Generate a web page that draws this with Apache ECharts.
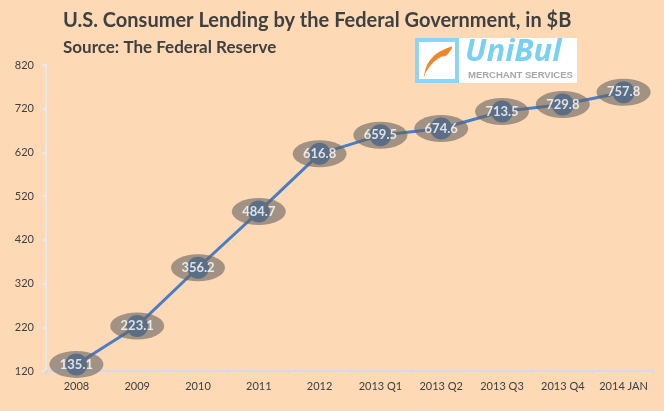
<!DOCTYPE html>
<html>
<head>
<meta charset="utf-8">
<script src="https://cdn.jsdelivr.net/npm/echarts@6/dist/echarts.min.js"></script>
<style>
html,body{margin:0;padding:0;background:#fdd9b6;}
#chart{width:664px;height:411px;}
</style>
</head>
<body>
<div id="chart"></div>
<script>
const categories = ['2008','2009','2010','2011','2012','2013 Q1','2013 Q2','2013 Q3','2013 Q4','2014 JAN'];
const lendingValues = [135.1, 223.1, 356.2, 484.7, 616.8, 659.5, 674.6, 713.5, 729.8, 757.8];
const yMin = 120, yMax = 820, yStep = 100;

const chart = echarts.init(document.getElementById('chart'), null, {renderer:'canvas'});
const ellipsePath = 'path://M0,50 A50,50 0 1,1 100,50 A50,50 0 1,1 0,50 Z';
const font = 'Lato, "Open Sans", sans-serif';

// logo swoosh outline (decoration)
const swoosh = [[0,30],[1,24],[3,18],[7,12],[12,7],[19,3],[28,0],[23,8],[17,10],[11,14],[6,19],[2,25]];

chart.setOption({
  backgroundColor: '#fdd9b6',
  animation: false,
  textStyle: {fontFamily: font},
  grid: {left: 46, right: 10, top: 65, bottom: 40},
  xAxis: {
    type: 'category',
    data: categories,
    boundaryGap: true,
    axisLine: {lineStyle: {color: '#d5dbe6', width: 2}},
    axisTick: {show: true, length: 3, interval: 0, lineStyle: {color: '#d5dbe6', width: 2}},
    axisLabel: {color: '#404040', fontSize: 11, margin: 10, interval: 0, fontFamily: font}
  },
  yAxis: {
    type: 'value',
    min: yMin, max: yMax, interval: yStep,
    splitLine: {show: false},
    axisLine: {show: true, lineStyle: {color: '#e8e8ec', width: 2}},
    axisTick: {show: true, length: 4, lineStyle: {color: '#e8e8ec', width: 2}},
    axisLabel: {color: '#404040', fontSize: 11, margin: 12, fontFamily: font}
  },
  series: [
    {
      type: 'line',
      data: lendingValues,
      symbol: 'circle',
      symbolSize: 22,
      itemStyle: {color: '#4f81bd'},
      lineStyle: {color: '#4a7ec4', width: 3},
      z: 2
    },
    {
      type: 'scatter',
      data: lendingValues,
      symbol: ellipsePath,
      symbolKeepAspect: false,
      symbolSize: [54, 27],
      itemStyle: {color: 'rgba(100,98,97,0.75)'},
      label: {
        show: true, position: 'inside',
        color: '#ffffff', fontWeight: 'bold', fontSize: 13, fontFamily: font
      },
      z: 3
    }
  ],
  graphic: [
    {type: 'text', x: 63, y: 11, style: {text: 'U.S. Consumer Lending by the Federal Government, in $B', fill: '#404040', font: 'bold 20px ' + font}},
    {type: 'text', x: 63, y: 39, style: {text: 'Source: The Federal Reserve', fill: '#404040', font: 'bold 17px ' + font}},
    {type: 'rect', shape: {x: 415, y: 38, width: 162, height: 45}, style: {fill: '#ffffff'}, z: 10},
    {type: 'rect', shape: {x: 417, y: 40, width: 40, height: 41}, style: {fill: '#ffffff', stroke: '#8fd4f2', lineWidth: 4}, z: 11},
    {type: 'polygon', x: 424, y: 47, shape: {points: swoosh, smooth: 0.3}, style: {fill: '#f0862a'}, z: 12},
    {type: 'text', x: 465, y: 37, style: {text: 'UniBul', fill: '#79d0f2', font: 'italic bold 31px "Open Sans", sans-serif'}, z: 12},
    {type: 'text', x: 468, y: 70, style: {text: 'MERCHANT SERVICES', fill: '#a6a6a6', font: 'bold 9.5px "Liberation Sans", Arial, sans-serif'}, z: 12}
  ]
});
</script>
</body>
</html>
